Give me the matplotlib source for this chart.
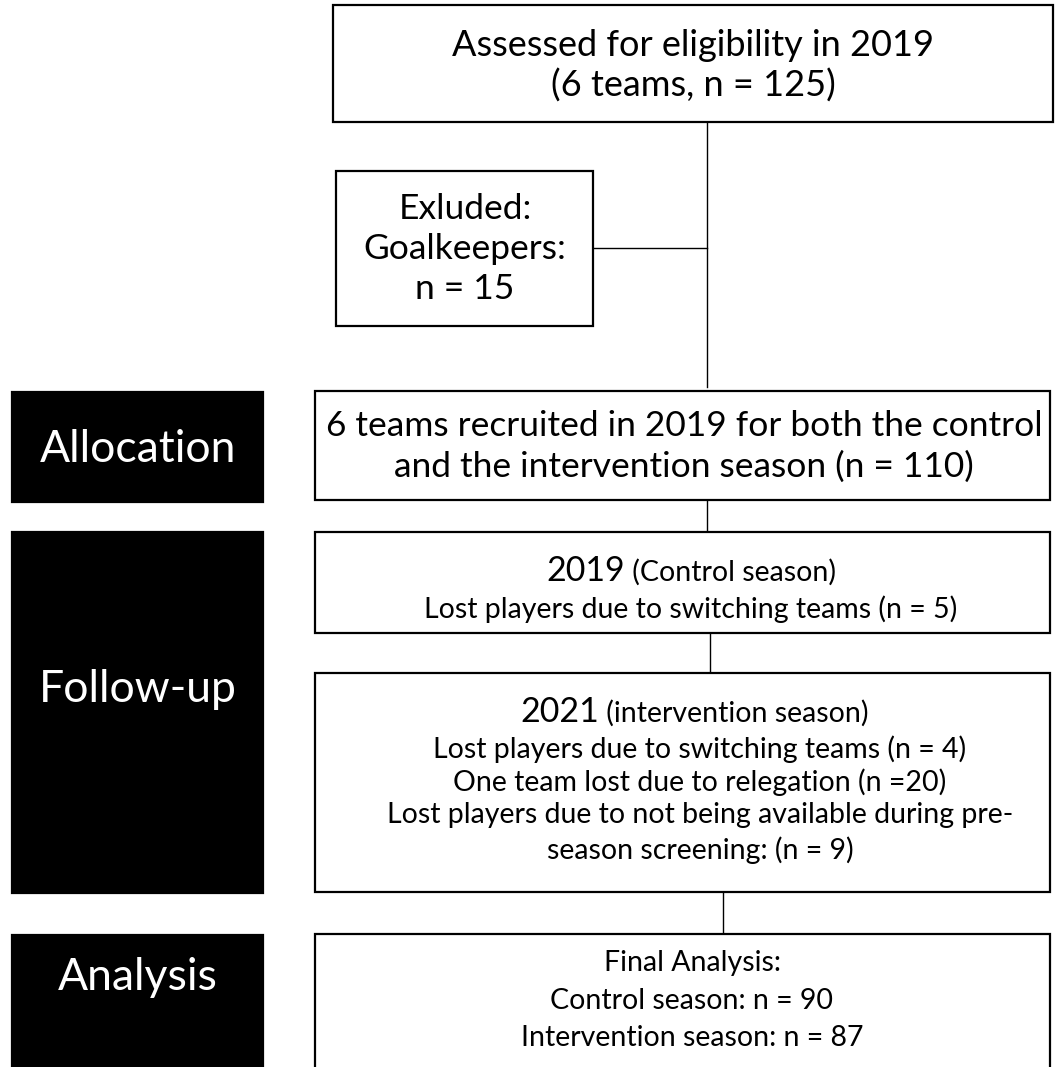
import matplotlib.pyplot as plt
from matplotlib.patches import Rectangle

plt.rcParams['font.family'] = ['Lato', 'DejaVu Sans']

# stage labels on the left (black boxes)
stages = ['Allocation', 'Follow-up', 'Analysis']

# box texts
assessed = ['Assessed for eligibility in 2019', '(6 teams, n = 125)']
excluded = ['Exluded:', 'Goalkeepers:', 'n = 15']
allocation = ['6 teams recruited in 2019 for both the control',
              'and the intervention season (n = 110)']
season_2019 = ('2019', ' (Control season)')
season_2019_lines = ['Lost players due to switching teams (n = 5)']
season_2021 = ('2021', ' (intervention season)')
season_2021_lines = ['Lost players due to switching teams (n = 4)',
                     'One team lost due to relegation (n =20)',
                     'Lost players due to not being available during pre-',
                     'season screening: (n = 9)']
final = ['Final Analysis:', 'Control season: n = 90', 'Intervention season: n = 87']

fig = plt.figure(figsize=(10.59, 10.67), dpi=100)
ax = fig.add_axes([0, 0, 1, 1])
ax.set_xlim(0, 1059)
ax.set_ylim(1067, 0)
ax.axis('off')
renderer = fig.canvas.get_renderer()


def box(x0, y0, x1, y1, black=False):
    ax.add_patch(Rectangle((x0, y0), x1 - x0, y1 - y0,
                           facecolor='black' if black else 'white',
                           edgecolor='black', linewidth=1.6, zorder=2))


def lines_in(cx, ys, texts, size, color='black'):
    for y, t in zip(ys, texts):
        ax.text(cx, y, t, ha='center', va='center', fontsize=size, color=color, zorder=3)


def heading(cx, y, parts, big, small):
    # year in a larger size followed by the season name, centred together
    a = ax.text(0, y, parts[0], ha='left', va='baseline', fontsize=big, zorder=3)
    b = ax.text(0, y, parts[1], ha='left', va='baseline', fontsize=small, zorder=3)
    wa = a.get_window_extent(renderer).width
    wb = b.get_window_extent(renderer).width
    x0 = cx - (wa + wb) / 2
    a.set_x(x0)
    b.set_x(x0 + wa)


def line(x0, y0, x1, y1):
    ax.plot([x0, x1], [y0, y1], color='black', linewidth=1.0, zorder=1)


big = 26
small = 20.5

# top box + exclusion
box(333, 5, 1053, 122)
lines_in(693, [45, 86], assessed, big)
box(336, 171, 593, 326)
lines_in(465, [209, 249, 289], excluded, 25.5)
line(707, 122, 707, 387)
line(593, 248, 707, 248)

# black stage boxes
box(12, 392, 263, 502, black=True)
box(12, 532, 263, 893, black=True)
box(12, 935, 263, 1080, black=True)
lines_in(138, [449, 690, 977], stages, 32, color='white')

# allocation
box(315, 391, 1050, 500)
lines_in(684, [426, 467], allocation, 25.5)
line(707, 500, 707, 532)

# 2019 season
box(315, 532, 1050, 633)
heading(691, 581, season_2019, 24.5, small)
lines_in(691, [609], season_2019_lines, small)
line(710, 633, 710, 673)

# 2021 season
box(315, 673, 1050, 892)
heading(694, 722, season_2021, 24.5, small)
lines_in(700, [749, 782, 815, 850], season_2021_lines, small)
line(723, 892, 723, 934)

# final analysis
box(315, 934, 1050, 1080)
lines_in(692, [963, 1001, 1038], final, small)

fig.savefig('out.png', dpi=100)
